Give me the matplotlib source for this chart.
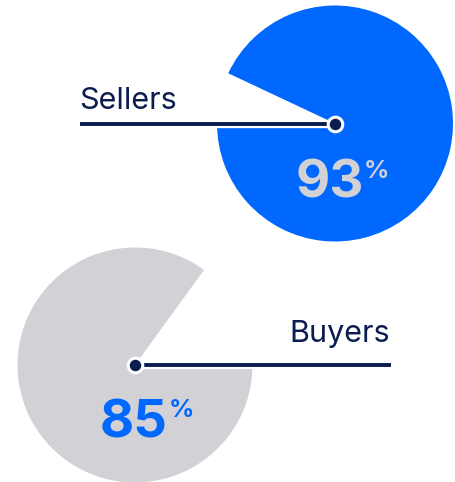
import matplotlib.pyplot as plt
import matplotlib.patheffects as pe

# Share of respondents in each group
groups = ["Sellers", "Buyers"]
shares = [93, 85]

W, H = 455, 482
BLUE = "#0068FF"
GREY = "#D1D1D6"
NAVY = "#0B1C4E"

plt.rcParams["font.family"] = ["Inter", "DejaVu Sans"]

fig = plt.figure(figsize=(W / 100, H / 100), dpi=100)
ax = fig.add_axes([0, 0, 1, 1])


def Y(y):
    return H - y


line_fx = [pe.Stroke(linewidth=6, foreground="white"), pe.Normal()]

# --- Sellers: blue disc with the missing share cut out at the upper left
c1, r1 = (335, Y(123.5)), 118
ax.pie([shares[0], 100 - shares[0]], colors=[BLUE, "none"], startangle=180,
       counterclock=True, center=c1, radius=r1,
       wedgeprops=dict(linewidth=0))
ax.plot([80, c1[0]], [c1[1], c1[1]], color=NAVY, lw=2.8,
        solid_capstyle="butt", path_effects=line_fx, zorder=5)
ax.plot([c1[0]], [c1[1]], "o", ms=10.5, mfc=NAVY, mec="white", mew=2.2,
        zorder=6)
ax.text(79, Y(109), groups[0], color=NAVY, fontsize=22, ha="left",
        va="baseline")
ax.text(296, Y(197), f"{shares[0]}", color=GREY, fontsize=38,
        fontweight="bold", ha="left", va="baseline")
ax.text(364, Y(178), "%", color=GREY, fontsize=18, fontweight="bold",
        ha="left", va="baseline")

# --- Buyers: grey disc with the missing share cut out at the upper right
c2, r2 = (135, Y(365)), 117.5
ax.pie([shares[1], 100 - shares[1]], colors=[GREY, "none"],
       startangle=(100 - shares[1]) * 3.6, counterclock=True, center=c2,
       radius=r2, wedgeprops=dict(linewidth=0))
ax.plot([c2[0], 391], [c2[1], c2[1]], color=NAVY, lw=2.8,
        solid_capstyle="butt", path_effects=line_fx, zorder=5)
ax.plot([c2[0]], [c2[1]], "o", ms=10.5, mfc=NAVY, mec="white", mew=2.2,
        zorder=6)
ax.text(390, Y(342), groups[1], color=NAVY, fontsize=22, ha="right",
        va="baseline")
ax.text(100, Y(437), f"{shares[1]}", color=BLUE, fontsize=38,
        fontweight="bold", ha="left", va="baseline")
ax.text(169, Y(417), "%", color=BLUE, fontsize=18, fontweight="bold",
        ha="left", va="baseline")

ax.set_xlim(0, W)
ax.set_ylim(0, H)
ax.set_aspect("equal")
ax.axis("off")

fig.savefig("out.png", dpi=100)
